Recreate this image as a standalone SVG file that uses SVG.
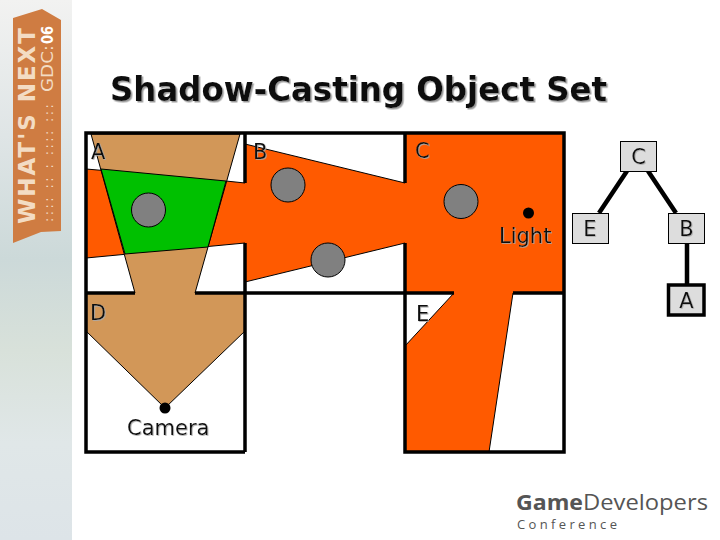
<svg xmlns="http://www.w3.org/2000/svg" width="720" height="540" viewBox="0 0 720 540">
<defs>
<linearGradient id="strip" x1="0" y1="0" x2="0" y2="1"><stop offset="0" stop-color="#f2f2f1"/><stop offset="0.25" stop-color="#dfe5e6"/><stop offset="0.48" stop-color="#ccd9d9"/><stop offset="0.65" stop-color="#d8e1da"/><stop offset="0.82" stop-color="#e0e7e8"/><stop offset="1" stop-color="#dde4e8"/></linearGradient>
<filter id="sh" x="-5%" y="-20%" width="110%" height="140%"><feDropShadow dx="1.5" dy="1.5" stdDeviation="0.4" flood-color="#999"/></filter>
<filter id="sl" x="-20%" y="-20%" width="140%" height="140%"><feDropShadow dx="0.8" dy="0.8" stdDeviation="0.4" flood-color="#aaa"/></filter>
</defs>
<style>
text{font-family:"DejaVu Sans","Liberation Sans",sans-serif}
.lab{font-size:21px;fill:#111;filter:url(#sl)}
.wall{stroke:#000;stroke-width:3.5;fill:none}
.edge{stroke:#000;stroke-width:4.5;fill:none}
.box{fill:#ddd;stroke:#000;stroke-width:1}
.occ{fill:#808080;stroke:#000;stroke-width:1}
.reg{stroke:#000;stroke-width:1}
.logo{font-family:"Open Sans","Liberation Sans",sans-serif;fill:#555}
</style>
<rect width="720" height="540" fill="#fff"/>
<g id="strip-bg"><rect width="72" height="540" fill="url(#strip)"/></g>
<g id="banner">
<polygon points="13,18 42,9 61,20 61,231 41,232 13,243" fill="#cf7c42"/>
<text transform="translate(35,224) rotate(-90)" font-size="23" font-weight="bold" fill="#f3dcc4" textLength="196" lengthAdjust="spacing">WHAT'S NEXT</text>
<text transform="translate(53,92) rotate(-90)" font-size="15" fill="#f3dcc4" textLength="47" lengthAdjust="spacingAndGlyphs">GDC:</text>
<text transform="translate(53,44) rotate(-90)" font-size="15" font-weight="bold" fill="#fff" textLength="18" lengthAdjust="spacingAndGlyphs">06</text>
<text transform="translate(53,222) rotate(-90)" font-size="13" fill="#f3dcc4" textLength="118">:::: :: : :::: :::</text>
</g>
<text id="title" x="110" y="101" font-size="33" font-weight="bold" fill="#111" filter="url(#sh)" textLength="497" lengthAdjust="spacingAndGlyphs">Shadow-Casting Object Set</text>
<g id="regions">
<polygon class="reg" fill="#ff5a00" points="86,169 226,181 245,183 245,144 405,183 405,133 564,133 564,293 513,293 489,452 405,452 405,346 454,293 405,293 405,243 245,282 245,243 86,258"/>
<polygon class="reg" fill="#d29758" points="91,134 240,134 195,293 245,293 245,331 165,408 86,331 86,293 135,293"/>
<polygon class="reg" fill="#00c000" points="101,169 226,181 208,247 125,254"/>
</g>
<g id="walls">
<path class="wall" d="M245,452H86V133H564V452H405V243M86,293H135M195,293H454M245,452V243M245,133V183M405,133V183M513,293H564"/>
</g>
<g id="occluders">
<circle id="occ-a" class="occ" cx="148.500" cy="210" r="17"/>
<circle id="occ-b1" class="occ" cx="288" cy="185" r="17"/>
<circle id="occ-b2" class="occ" cx="328" cy="260" r="17"/>
<circle id="occ-c" class="occ" cx="461" cy="201.500" r="17"/>
</g>
<g id="light"><circle cx="528.500" cy="213" r="5.500" fill="#000"/><text class="lab" x="499" y="243">Light</text></g>
<g id="camera"><circle cx="165" cy="408" r="5.500" fill="#000"/><text class="lab" x="127" y="435">Camera</text></g>
<g id="room-labels">
<text class="lab" x="91" y="159">A</text>
<text class="lab" x="253" y="159">B</text>
<text class="lab" x="415" y="158">C</text>
<text class="lab" x="90" y="320">D</text>
<text class="lab" x="416" y="321">E</text>
</g>
<g id="connectors">
<path class="edge" d="M627,171L599,213M648,171L676,213M687,243V285"/>
</g>
<g id="node-C"><rect class="box" x="620.500" y="141.500" width="36" height="30"/><text class="lab" x="638.500" y="164" text-anchor="middle">C</text></g>
<g id="node-E"><rect class="box" x="572.500" y="213.500" width="36" height="30"/><text class="lab" x="590" y="236" text-anchor="middle">E</text></g>
<g id="node-B"><rect class="box" x="668.500" y="213.500" width="36" height="30"/><text class="lab" x="686.500" y="236" text-anchor="middle">B</text></g>
<g id="node-A"><rect x="668.500" y="285" width="35.500" height="30" fill="#ddd" stroke="#000" stroke-width="3.500"/><text class="lab" x="686.500" y="308" text-anchor="middle">A</text></g>
<g id="logo">
<text class="logo" x="516" y="510" font-size="22" font-weight="bold" textLength="67" lengthAdjust="spacingAndGlyphs">Game</text>
<text class="logo" x="583" y="510" font-size="22" textLength="125" lengthAdjust="spacingAndGlyphs">Developers</text>
<text class="logo" x="517" y="529" font-size="13" textLength="100">Conference</text>
</g>
</svg>
